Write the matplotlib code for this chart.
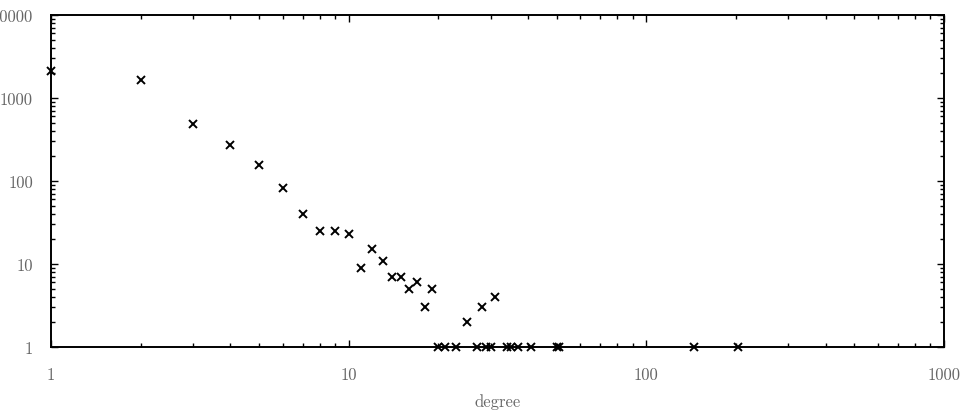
import matplotlib
matplotlib.use("Agg")
import matplotlib.pyplot as plt
from matplotlib.ticker import LogLocator, NullFormatter, FixedLocator, FixedFormatter

plt.rcParams['font.family'] = ['cmr10', 'DejaVu Serif']
plt.rcParams['axes.unicode_minus'] = False

# degree values and their counts
degree = [1, 2, 3, 4, 5, 6, 7, 8, 9, 10, 11, 12, 13, 14, 15, 16, 17, 18, 19,
          20, 21, 23, 25, 27, 28, 29, 30, 31, 34, 35, 37, 41, 50, 51, 145, 203]
count = [2100, 1650, 485, 272, 156, 83, 40, 25, 25, 23, 9, 15, 11, 7, 7, 5, 6, 3, 5,
         1, 1, 1, 2, 1, 3, 1, 1, 4, 1, 1, 1, 1, 1, 1, 1, 1]

xticks = [1, 10, 100, 1000]
xtick_labels = ["1", "10", "100", "1000"]
yticks = [1, 10, 100, 1000, 10000]
ytick_labels = ["1", "10", "100", "1000", "10000"]
xlabel = "degree"

fig = plt.figure(figsize=(9.69, 4.14), dpi=100)
ax = fig.add_axes([51/969, 66/414, (944-51)/969, (348-16)/414])

ax.plot(degree, count, linestyle='none', marker='x', color='black',
        markersize=5.5, markeredgewidth=1.4, clip_on=False, zorder=5)

ax.set_xscale('log')
ax.set_yscale('log')
ax.set_xlim(1, 1000)
ax.set_ylim(1, 10000)

ax.xaxis.set_major_locator(FixedLocator(xticks))
ax.xaxis.set_major_formatter(FixedFormatter(xtick_labels))
ax.yaxis.set_major_locator(FixedLocator(yticks))
ax.yaxis.set_major_formatter(FixedFormatter(ytick_labels))
ax.xaxis.set_minor_locator(LogLocator(base=10, subs=range(2, 10), numticks=20))
ax.yaxis.set_minor_locator(LogLocator(base=10, subs=range(2, 10), numticks=20))
ax.xaxis.set_minor_formatter(NullFormatter())
ax.yaxis.set_minor_formatter(NullFormatter())

ax.tick_params(which='both', direction='in', top=True, right=True, colors='black',
               labelcolor='#666666', labelsize=12)
ax.tick_params(which='major', length=5, width=1.0)
ax.tick_params(which='minor', length=3, width=1.0)
ax.tick_params(axis='x', which='major', pad=14)
ax.tick_params(axis='y', which='major', pad=13)

for s in ax.spines.values():
    s.set_linewidth(1.4)
    s.set_color('black')

ax.set_xlabel(xlabel, color='#666666', fontsize=12, labelpad=8)

fig.savefig("out.png", dpi=100)
